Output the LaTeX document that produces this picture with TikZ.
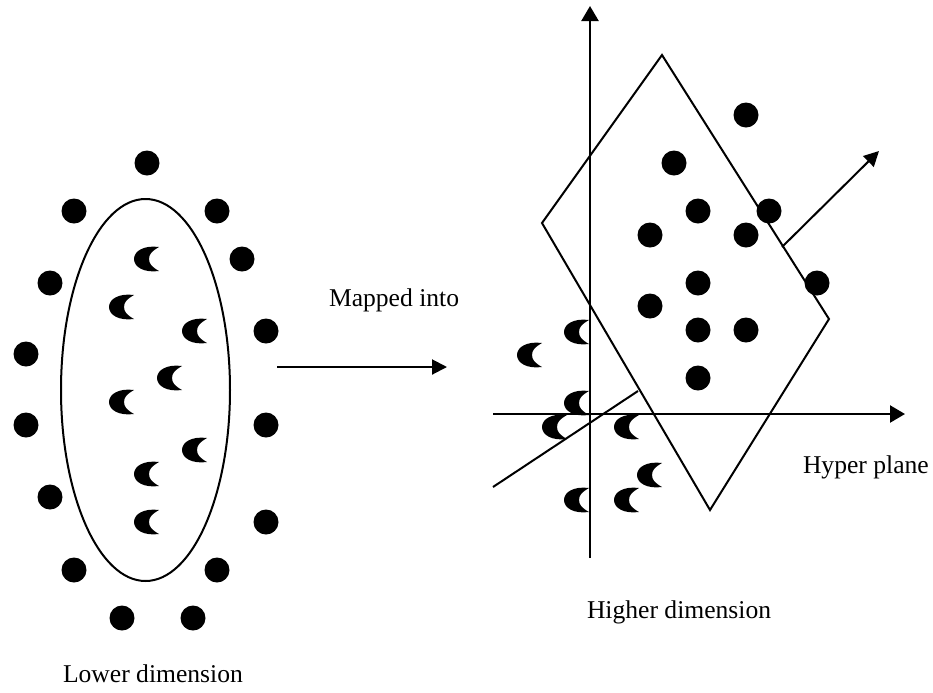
\documentclass[tikz,border=0pt]{standalone}
\usepackage{fontspec}
\setmainfont{Liberation Serif}
\usetikzlibrary{arrows.meta}

\tikzset{
  dot/.style={circle, fill=black, inner sep=0pt, minimum size=12.5pt},
  txt/.style={anchor=base west, inner sep=0pt, font=\fontsize{12.8}{15}\selectfont},
  axis/.style={line width=1.2pt, -{Triangle[length=7.5pt, width=8.5pt]}},
  crescent/.pic={
    \fill (12,-12) .. controls (-3,-14) and (-13,-8) .. (-13,0)
      .. controls (-13,8) and (-3,14) .. (12,12)
      .. controls (5,8) and (2,5) .. (2,0)
      .. controls (2,-5) and (5,-8) .. (12,-12) -- cycle;
  }
}

\begin{document}
\begin{tikzpicture}[x=0.5pt, y=-0.5pt, line width=1pt]
        \useasboundingbox (0,0) rectangle (933,692);

        % Lower dimension: ellipse with moons inside, dots around
        \draw (145.5,390) ellipse (84.5 and 191);
        \foreach \p [count=\i] in {(147,163),(74,211),(217,211),(242,259),(50,283),(266,331),(26,354),(26,425),(266,425),(50,497),(266,522),(74,570),(217,570),(122,618),(193,618)}
            \node[dot] (ld\i) at \p {};
        \foreach \p in {(147,259),(122,307),(195,331),(170,378),(122,402),(195,450),(147,474),(147,522)}
            \pic at \p {crescent};
        \node[txt] (lower) at (62,682) {Lower dimension};

        % Mapping arrow
        \coordinate (mapA) at (277,367);
        \coordinate (mapB) at (447,367);
        \draw[-{Triangle[length=7.5pt, width=7.5pt]}] (mapA) -- (mapB);
        \node[txt] (mapped) at (328,306) {Mapped into};

        % Higher dimension: axes
        \coordinate (xa) at (493,414);
        \coordinate (xb) at (905,414);
        \coordinate (ya) at (590,558);
        \coordinate (yb) at (590,6);
        \draw[axis] (xa) -- (xb);
        \draw[axis] (ya) -- (yb);

        % Hyper plane
        \coordinate (dTop) at (662,55);
        \coordinate (dLeft) at (542,223);
        \coordinate (dBot) at (710,510);
        \coordinate (dRight) at (829,319);
        \draw (dTop) -- (dRight) -- (dBot) -- (dLeft) -- cycle;
        \coordinate (nA) at (493,487);
        \coordinate (nB) at (638,391);
        \draw (nA) -- (nB);
        \coordinate (vA) at (782,247);
        \coordinate (vB) at (879,151);
        \draw[-{Triangle[length=7.5pt, width=7.5pt]}] (vA) -- (vB);

        \foreach \p [count=\i] in {(746,115),(674,163),(698,211),(769,211),(650,235),(746,235),(698,283),(817,283),(650,306),(698,330),(746,330),(698,378)}
            \node[dot] (hd\i) at \p {};
        \foreach \p in {(577,332),(530,355),(577,403),(555,427),(627,427),(650,475),(577,500),(627,500)}
            \pic at \p {crescent};

        \node[txt] (hyper) at (802,473) {Hyper plane};
        \node[txt] (higher) at (586,618) {Higher dimension};

    \end{tikzpicture}
\end{document}
